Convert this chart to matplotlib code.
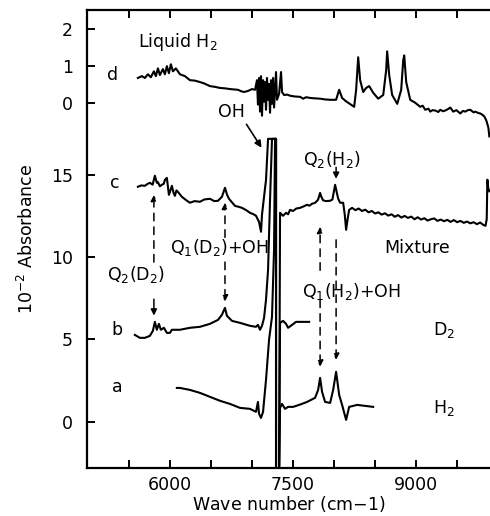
import matplotlib
matplotlib.use("Agg")
import matplotlib.pyplot as plt

# ---------------- data ----------------
# d: liquid H2, in its own (upper) scale, 10^-2 absorbance
wn_d = [5610, 5659, 5695, 5732, 5768, 5805, 5829, 5854, 5878, 5915, 5939, 5963, 5988, 6012,
        6037, 6073, 6122, 6183, 6244, 6300, 6366, 6420, 6488, 6550, 6610, 6670, 6732, 6780,
        6830, 6870, 6903, 6952, 7000, 7037, 7061, 7073, 7086, 7098, 7110, 7122, 7135, 7147,
        7159, 7171, 7183, 7196, 7208, 7220, 7232, 7244, 7257, 7269, 7293, 7305, 7330, 7354,
        7366, 7391, 7430, 7464, 7520, 7586, 7623, 7660, 7708, 7760, 7830, 7890, 7952, 8025,
        8062, 8098, 8140, 8172, 8245, 8269, 8294, 8318, 8355, 8391, 8428, 8477, 8538, 8599,
        8635, 8647, 8672, 8708, 8770, 8818, 8843, 8855, 8879, 8928, 8989, 9050, 9080, 9111,
        9150, 9172, 9200, 9233, 9270, 9294, 9330, 9355, 9390, 9416, 9452, 9490, 9538, 9570,
        9599, 9630, 9660, 9700, 9721, 9760, 9782, 9810, 9831, 9855, 9880, 9892]
abs_d = [0.67, 0.72, 0.67, 0.77, 0.69, 0.85, 0.72, 0.93, 0.75, 0.91, 0.77, 0.99, 0.80, 1.04,
         0.85, 0.93, 0.77, 0.72, 0.61, 0.60, 0.56, 0.52, 0.45, 0.43, 0.40, 0.39, 0.37, 0.36,
         0.35, 0.31, 0.29, 0.32, 0.37, 0.35, 0.61, -0.05, 0.67, -0.24, 0.72, -0.35, 0.61, 0.03,
         0.56, -0.19, 0.67, 0.08, 0.51, -0.27, 0.61, -0.03, 0.67, -0.13, 0.83, 0.08, 0.24, 0.83,
         0.29, 0.21, 0.22, 0.19, 0.17, 0.16, 0.11, 0.15, 0.13, 0.12, 0.11, 0.09, 0.08, 0.08,
         0.35, 0.13, 0.05, 0.00, -0.11, 0.35, 1.23, 0.61, 0.29, 0.40, 0.45, 0.27, 0.11, 0.21,
         0.88, 1.39, 0.75, 0.21, -0.03, 0.35, 1.15, 1.28, 0.56, 0.08, 0.00, -0.11, -0.08, -0.19,
         -0.16, -0.24, -0.20, -0.21, -0.25, -0.19, -0.23, -0.21, -0.17, -0.13, -0.24, -0.20, -0.29, -0.22,
         -0.24, -0.20, -0.19, -0.26, -0.24, -0.28, -0.29, -0.33, -0.37, -0.48, -0.67, -0.91]

# c: mixture
wn_c = [5610, 5650, 5695, 5730, 5756, 5790, 5817, 5841, 5854, 5878, 5902, 5925, 5939, 5963,
        5988, 6010, 6024, 6045, 6061, 6080, 6098, 6146, 6200, 6244, 6300, 6366, 6420, 6488,
        6540, 6586, 6634, 6671, 6695, 6720, 6793, 6840, 6878, 6930, 6976, 7020, 7049, 7086,
        7110, 7122, 7147, 7171, 7196, 7293, 7293, 7330, 7342, 7379, 7415, 7440, 7464, 7500,
        7540, 7586, 7630, 7671, 7700, 7732, 7770, 7805, 7818, 7830, 7842, 7866, 7900, 7952,
        7980, 7995, 8013, 8030, 8050, 8074, 8111, 8130, 8147, 8165, 8184, 8220, 8260, 8300,
        8340, 8380, 8420, 8460, 8500, 8540, 8580, 8620, 8660, 8700, 8740, 8780, 8820, 8860,
        8900, 8940, 8980, 9020, 9060, 9100, 9140, 9180, 9220, 9260, 9300, 9340, 9380, 9420,
        9460, 9500, 9540, 9580, 9620, 9660, 9700, 9740, 9780, 9820, 9845, 9860, 9868, 9878,
        9892]
abs_c = [14.27, 14.35, 14.33, 14.45, 14.51, 14.40, 14.94, 14.51, 14.55, 14.30, 14.39, 14.45, 14.69, 14.81,
         13.78, 14.10, 14.33, 13.90, 13.72, 14.05, 13.96, 13.66, 13.45, 13.30, 13.40, 13.36, 13.50, 13.54,
         13.40, 13.42, 13.66, 14.21, 13.80, 13.54, 13.11, 13.05, 12.99, 12.85, 12.69, 12.60, 12.51, 12.14,
         11.54, 12.57, 13.66, 14.69, 17.18, 17.18, -3.5, -3.5, 12.69, 12.51, 12.69, 12.60, 12.87, 12.80,
         12.95, 12.99, 13.08, 13.18, 13.12, 13.24, 13.30, 13.48, 13.70, 13.90, 13.70, 13.45, 13.40, 13.42,
         13.50, 13.90, 14.39, 14.00, 13.55, 13.30, 13.30, 12.60, 11.66, 12.30, 12.87, 12.99, 12.85, 12.95,
         12.80, 12.88, 12.72, 12.80, 12.65, 12.72, 12.58, 12.66, 12.52, 12.60, 12.45, 12.55, 12.40, 12.50,
         12.38, 12.46, 12.30, 12.42, 12.28, 12.36, 12.22, 12.30, 12.35, 12.20, 12.28, 12.18, 12.26, 12.14,
         12.25, 12.12, 12.20, 12.08, 12.16, 12.05, 12.12, 12.00, 12.10, 11.95, 11.90, 12.30, 14.70, 14.20,
         14.00]

# b: D2
wn_b = [5573, 5634, 5695, 5756, 5793, 5817, 5841, 5866, 5890, 5927, 5963, 6000, 6024, 6122,
        6244, 6366, 6488, 6586, 6634, 6671, 6695, 6756, 6854, 6976, 7049, 7073, 7098, 7122,
        7147, 7171, 7196, 7220, 7244, 7293, 7293, 7330, 7342, 7379, 7415, 7440, 7489, 7537,
        7586, 7696]
abs_b = [5.28, 5.10, 5.10, 5.22, 5.53, 6.07, 5.59, 5.95, 5.59, 5.71, 5.40, 5.40, 5.59, 5.59,
         5.71, 5.77, 5.95, 6.19, 6.50, 6.92, 6.44, 6.13, 6.01, 5.83, 5.77, 5.89, 5.59, 5.83,
         6.31, 7.41, 9.23, 13.48, 17.18, 17.18, -3.5, -3.5, 6.01, 6.13, 5.95, 5.71, 5.89, 6.07,
         6.07, 6.07]

# a: H2
wn_a = [6085, 6122, 6244, 6366, 6488, 6610, 6732, 6854, 6976, 7049, 7073, 7086, 7110, 7135,
        7171, 7208, 7244, 7269, 7281, 7293, 7293, 7330, 7342, 7366, 7403, 7440, 7501, 7586,
        7671, 7769, 7806, 7830, 7854, 7891, 7952, 7989, 8025, 8062, 8098, 8147, 8184, 8281,
        8379, 8477]
abs_a = [2.06, 2.06, 1.94, 1.76, 1.52, 1.28, 1.09, 0.85, 0.79, 0.61, 1.21, 0.49, 0.24, 0.61,
         2.55, 4.98, 6.38, 10.44, 17.18, 17.18, -3.5, -3.5, 0.85, 1.09, 0.79, 0.91, 0.91, 1.05,
         1.21, 1.46, 1.94, 2.67, 1.82, 1.21, 1.15, 1.94, 3.04, 1.64, 1.03, 0.12, 0.91, 1.03,
         0.97, 0.91]

left_ticks = [0, 5, 10, 15]
top_ticks = [0, 1, 2]
x_major = [6000, 7500, 9000]
x_minor = [5500, 6500, 7000, 8000, 8500, 9500]

# ---------------- figure ----------------
D_OFF, D_SCALE = 19.37, 2.245

fig = plt.figure(figsize=(4.9, 5.16), dpi=100)
ax = fig.add_axes([87/490, 48/516, 1 - 87/490, (468-10)/516])
ax.set_xlim(4990, 9900)
ax.set_ylim(-2.8, 25.0)

lw = 1.5
ax.plot(wn_d, [D_OFF + v*D_SCALE for v in abs_d], color='black', lw=lw)
ax.plot(wn_c, abs_c, color='black', lw=lw)
ax.plot(wn_b, abs_b, color='black', lw=lw)
ax.plot(wn_a, abs_a, color='black', lw=lw)

fs = 12.5
yt = left_ticks + [D_OFF + t*D_SCALE for t in top_ticks]
ax.set_yticks(yt)
ax.set_yticklabels([str(t) for t in left_ticks] + [str(t) for t in top_ticks], fontsize=fs)
ax.set_xticks(x_major)
ax.set_xticklabels([str(t) for t in x_major], fontsize=fs)
ax.set_xticks(x_minor, minor=True)
ax.tick_params(axis='both', which='both', direction='in', length=6, width=1.4,
               top=True, right=False)
ax.tick_params(axis='x', pad=6)
ax.tick_params(axis='y', pad=10)
for s in ['left', 'bottom', 'top']:
    ax.spines[s].set_linewidth(1.6)
ax.spines['right'].set_visible(False)

ax.set_xlabel('Wave number (cm$-$1)', fontsize=fs, labelpad=0)
ax.set_ylabel('10$^{-2}$ Absorbance', fontsize=fs, labelpad=10)

# curve letters
for lab, x, y in [('d', 5305, 21.07), ('c', 5330, 14.51), ('b', 5354, 5.59), ('a', 5354, 2.13)]:
    ax.text(x, y, lab, fontsize=fs, ha='center', va='center')

ax.text(5610, 23.07, 'Liquid H$_2$', fontsize=fs, ha='left', va='center')
ax.text(6744, 18.82, 'OH', fontsize=fs, ha='center', va='center')
ax.annotate('', xy=(7135, 16.5), xytext=(6915, 18.2),
            arrowprops=dict(arrowstyle='-|>', color='black', lw=1.2, mutation_scale=10))
ax.text(7976, 15.91, 'Q$_2$(H$_2$)', fontsize=fs, ha='center', va='center')
ax.text(9013, 10.56, 'Mixture', fontsize=fs, ha='center', va='center')
ax.text(6000, 10.56, 'Q$_1$(D$_2$)+OH', fontsize=fs, ha='left', va='center')
ax.text(5591, 8.93, 'Q$_2$(D$_2$)', fontsize=fs, ha='center', va='center')
ax.text(8208, 7.89, 'Q$_1$(H$_2$)+OH', fontsize=fs, ha='center', va='center')
ax.text(9343, 5.59, 'D$_2$', fontsize=fs, ha='center', va='center')
ax.text(9343, 0.85, 'H$_2$', fontsize=fs, ha='center', va='center')

def arrow(x, y0, y1, dashed):
    ax.annotate('', xy=(x, y1), xytext=(x, y0),
                arrowprops=dict(arrowstyle='-|>', color='black', lw=1.1, mutation_scale=9,
                                linestyle=(0, (5, 4)) if dashed else '-',
                                shrinkA=0, shrinkB=0))

arrow(5805, 9.7, 13.78, True)
arrow(5805, 7.45, 6.45, False)
arrow(6671, 11.2, 13.3, True)
arrow(6671, 9.7, 7.3, True)
arrow(7830, 9.2, 11.84, True)
arrow(7830, 7.4, 3.34, True)
arrow(8025, 15.45, 14.75, False)
arrow(8025, 11.05, 3.76, True)

fig.savefig('out.png', dpi=100)
